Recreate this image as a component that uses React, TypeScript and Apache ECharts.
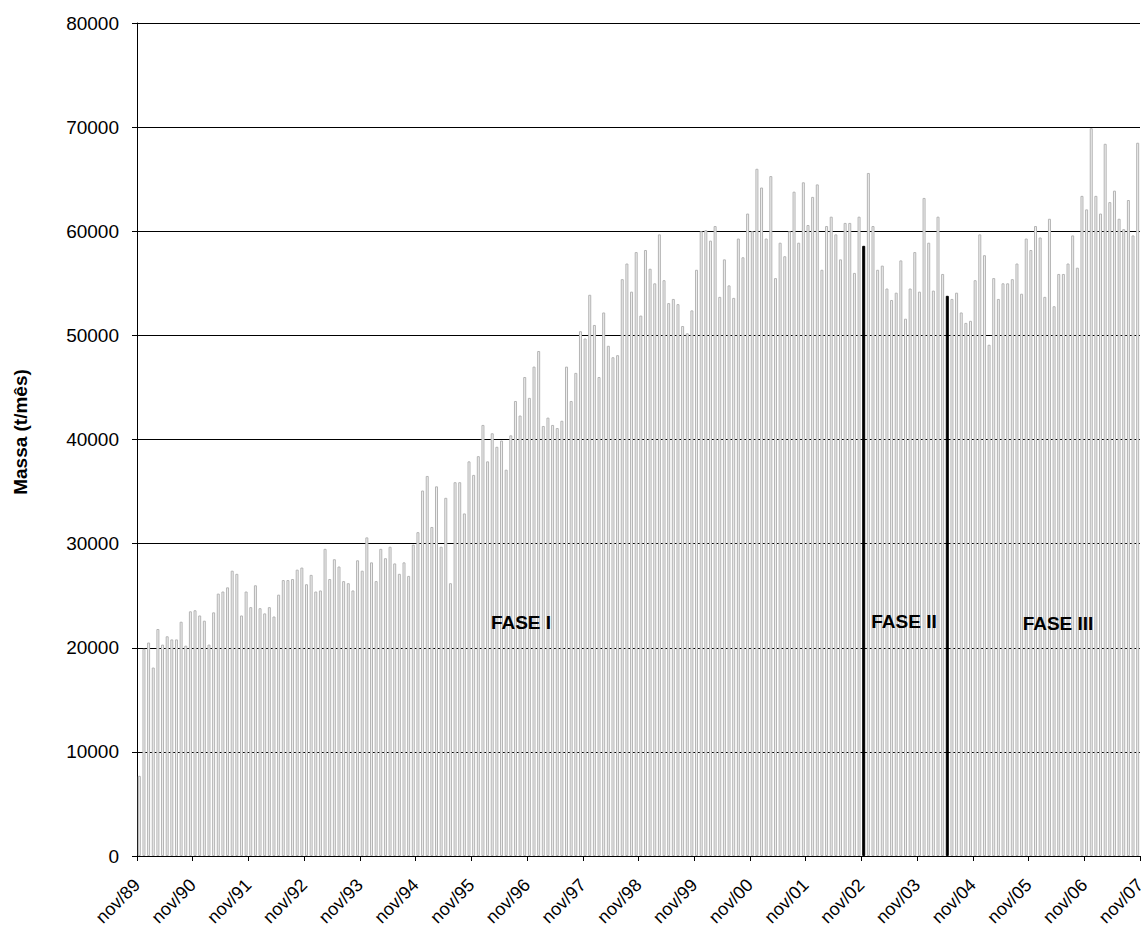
import React, { useEffect, useRef } from "react";
import * as echarts from "echarts";

// Tick labels every 12 months (nov/89 ... nov/07)
const tickLabels = [
  "nov/89", "nov/90", "nov/91", "nov/92", "nov/93", "nov/94", "nov/95",
  "nov/96", "nov/97", "nov/98", "nov/99", "nov/00", "nov/01", "nov/02",
  "nov/03", "nov/04", "nov/05", "nov/06", "nov/07",
];

// Monthly mass (t/mês), nov/89 .. oct/07 (216 months)
const massFaseA = [
  7700, 19900, 20500, 18100, 21800, 20300, 21100, 20800, 20800, 22500, 20200, 23500,
  23600, 23100, 22600, 20300, 23400, 25200, 25400, 25800, 27400, 27100, 23100, 25400,
  23900, 26000, 23800, 23300, 23900, 23000, 25100, 26500, 26500, 26600, 27500, 27700,
  26100, 27000, 25400, 25500, 29500, 26600, 28500, 27800, 26400, 26200, 25500, 28400,
  27400, 30600, 28200, 26400, 29500, 28600, 29700, 28100, 27100, 28200, 26900, 29900,
  31100,
];
const massFaseB = [
  35100, 36500, 31600, 35500, 29700, 34400, 26200, 35900, 35900, 32900, 37900, 36600,
  38400, 41400, 37900, 40600, 39300, 39900, 37100, 40400, 43700, 42300, 46000, 44000,
  47000, 48500, 41300, 42100, 41400, 41100, 41800, 47000, 43700, 46400, 50400, 49700,
];
const massFaseC = [
  53900, 51000, 46000, 52200, 49000, 47900, 48100, 55400, 56900, 54200, 58000, 51900,
  58200, 56400, 55000, 59700, 55300, 53100, 53500, 53000, 50900, 50200, 52400, 56300,
  60000, 60100, 59100,
];
const massFaseD = [
  60500, 53700, 57300, 54800, 53600, 59300, 57500, 61700, 60000, 66000, 64200, 59300,
  65300, 55500, 58900, 57600, 60000, 63800, 58900, 64700, 60600, 63300, 64500, 56300,
  60500, 61400, 59700, 57300, 60800, 60800, 56000, 61400, 58600, 65600, 60500, 56300,
  56700, 54500, 53400, 54100, 57200, 51600, 54500,
];
const massFaseE = [
  58000, 54200, 63200, 58900, 54300, 61400, 55900, 53800, 53500, 54100, 52200, 51200,
  51400, 55300, 59700, 57700, 49100, 55500, 53500, 55000, 55000, 55400, 56900, 54000,
  59300, 58200, 60500, 59400, 53700, 61200, 52800, 55900, 55900, 56900, 59600, 56500,
  63400, 62100, 69900, 63400, 61700, 68400, 62800, 63900, 61200, 60200, 63000, 59600,
  68500,
];
const massValues = [...massFaseA, ...massFaseB, ...massFaseC, ...massFaseD, ...massFaseE];

// Months (index from nov/89) drawn as black phase separators
const phaseMonths = [156, 174];
const phaseLabels = ["FASE I", "FASE II", "FASE III"];
const yTitle = "Massa (t/mês)";

export default function App() {
  const ref = useRef<HTMLDivElement>(null);

  useEffect(() => {
    const chart = echarts.init(ref.current!, null, { renderer: "svg" });
    const data = massValues.map((v, i) => {
      const isPhase = phaseMonths.includes(i);
      return isPhase
        ? { value: [i + 0.5, v], itemStyle: { color: "#000000", borderColor: "#000000" } }
        : { value: [i + 0.5, v] };
    });
    const font = "Liberation Sans, Arial, sans-serif";
    const phaseText = (text: string, x: number, y: number) => ({
      type: "text",
      x,
      y,
      z: 100,
      style: {
        text,
        fontSize: 19,
        fontWeight: "bold",
        fontFamily: font,
        fill: "#000",
        textAlign: "center",
        textVerticalAlign: "middle",
      },
    });
    chart.setOption({
      animation: false,
      backgroundColor: "#ffffff",
      grid: { left: 137, top: 23, right: 1, bottom: 71, outerBoundsMode: "none", containLabel: false },
      xAxis: {
        type: "value",
        min: 0,
        max: 216,
        interval: 12,
        axisLine: { show: true, onZero: false, lineStyle: { color: "#000", width: 1 } },
        axisTick: { show: true, length: 5, lineStyle: { color: "#000" } },
        splitLine: { show: false },
        axisLabel: {
          rotate: 45,
          fontSize: 18,
          fontFamily: font,
          color: "#000",
          margin: 26,
          padding: [20, 0, 0, 0],
          formatter: (v: number) => tickLabels[Math.round(v / 12)] ?? "",
        },
      },
      yAxis: {
        type: "value",
        min: 0,
        max: 80000,
        interval: 10000,
        axisLine: { show: true, lineStyle: { color: "#000", width: 1 } },
        axisTick: { show: true, length: 5, lineStyle: { color: "#000" } },
        splitLine: { show: true, lineStyle: { color: "#000", width: 1 } },
        axisLabel: {
          fontSize: 19,
          fontFamily: font,
          color: "#000",
          margin: 18,
          formatter: (v: number) => String(v),
        },
      },
      series: [
        {
          type: "bar",
          data,
          barWidth: 3,
          z: 2,
          itemStyle: { color: "#efefef", borderColor: "#b4b4b4", borderWidth: 1 },
        },
      ],
      graphic: [
        {
          type: "text",
          x: 20,
          y: 432,
          z: 100,
          rotation: Math.PI / 2,
          style: {
            text: yTitle,
            fontSize: 19,
            fontWeight: "bold",
            fontFamily: font,
            fill: "#000",
            textAlign: "center",
            textVerticalAlign: "middle",
          },
        },
        phaseText(phaseLabels[0], 521, 622),
        phaseText(phaseLabels[1], 904, 621),
        phaseText(phaseLabels[2], 1058, 623),
      ],
    });
    return () => chart.dispose();
  }, []);

  return (
    <div
      ref={ref}
      style={{ position: "fixed", left: 0, top: 0, width: 1141, height: 927 }}
    />
  );
}
